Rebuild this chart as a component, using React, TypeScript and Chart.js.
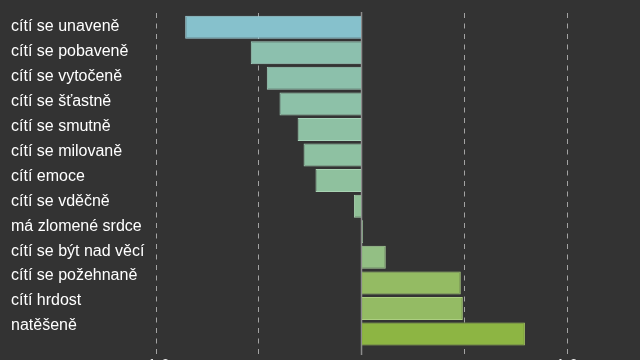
import { useEffect, useRef } from "react";
import { Chart, registerables } from "chart.js";

Chart.register(...registerables);

const categories = [
  "cítí se unaveně",
  "cítí se pobaveně",
  "cítí se vytočeně",
  "cítí se šťastně",
  "cítí se smutně",
  "cítí se milovaně",
  "cítí emoce",
  "cítí se vděčně",
  "má zlomené srdce",
  "cítí se být nad věcí",
  "cítí se požehnaně",
  "cítí hrdost",
  "natěšeně",
];

const values = [
  -0.858, -0.539, -0.461, -0.399, -0.311, -0.282, -0.224, -0.037, 0.007, 0.118,
  0.483, 0.493, 0.795,
];

const barColors = [
  "#86c1cc", "#8cc0ae", "#8cc0ab", "#8dc1a8", "#8ec1a4", "#8ec1a2", "#8fc19e",
  "#90c097", "#91c092", "#93bf84", "#94bb63", "#94bb64", "#8db543",
];

const barBorderColors = [
  "#a2d2dc", "#a6d2c3", "#a6d2c0", "#a7d3bd", "#a8d3ba", "#a8d3b8", "#a9d3b4",
  "#aad2ae", "#abd2aa", "#acd09e", "#acce80", "#acce81", "#a6ca63",
];

const xTickValues = [-1, -0.5, 0, 0.5, 1];
const xTickLabels: Record<string, string> = { "-1": "-1.0", "1": "1.0" };

const FONT = "'Liberation Sans', Arial, sans-serif";

export default function App() {
  const ref = useRef<HTMLCanvasElement>(null);

  useEffect(() => {
    if (!ref.current) return;
    const zeroLine = {
      id: "zeroLine",
      beforeDatasetsDraw(chart: any) {
        const c = chart.ctx;
        const x = chart.scales.x.getPixelForValue(0);
        const { top, bottom } = chart.chartArea;
        c.save();
        c.strokeStyle = "#8c8c8c";
        c.lineWidth = 1.5;
        c.beginPath();
        c.moveTo(x, top - 1);
        c.lineTo(x, bottom);
        c.stroke();
        c.restore();
      },
    };

    const chart = new Chart(ref.current, {
      type: "bar",
      data: {
        datasets: [
          {
            data: values.map((v, i) => ({ x: v, y: i })),
            backgroundColor: barColors,
            borderColor: barBorderColors,
            borderWidth: 1,
            barPercentage: 0.9,
            categoryPercentage: 1,
            xAxisID: "x",
            yAxisID: "y",
          },
        ],
      },
      options: {
        indexAxis: "y",
        animation: false,
        responsive: true,
        maintainAspectRatio: false,
        layout: { padding: { top: 13, left: 11, right: 0, bottom: 0 } },
        plugins: {
          legend: { display: false },
          tooltip: { enabled: false },
          title: { display: false },
        },
        scales: {
          x: {
            type: "linear",
            position: "bottom",
            min: -1,
            max: 1.355,
            offset: false,
            afterBuildTicks: (s: any) => {
              s.ticks = xTickValues.map((v) => ({ value: v }));
            },
            afterFit: (s: any) => {
              s.height = 25;
            },
            grid: {
              color: (c: any) =>
                c.tick && c.tick.value === 0 ? "rgba(0,0,0,0)" : "#a3a3a3",
              lineWidth: 1,
              drawTicks: false,
              offset: false,
            },
            border: { display: false, dash: [5, 5.5] },
            ticks: {
              padding: 2,
              color: "#eeeeee",
              font: { size: 16, family: FONT },
              autoSkip: false,
              maxRotation: 0,
              callback: (v: any) => xTickLabels[String(v)] ?? "",
            },
          },
          y: {
            type: "linear",
            display: false,
            reverse: true,
            offset: false,
            min: -0.5553,
            max: 12.82,
            grid: { offset: false },
            afterBuildTicks: (s: any) => {
              s.ticks = categories.map((_, i) => ({ value: i }));
            },
          },
          yl: {
            type: "linear",
            position: "left",
            reverse: true,
            offset: false,
            min: -0.5493,
            max: 13.164,
            afterBuildTicks: (s: any) => {
              s.ticks = categories.map((_, i) => ({ value: i }));
            },
            afterFit: (s: any) => {
              s.width = 145;
            },
            grid: { display: false, offset: false },
            border: { display: false },
            ticks: {
              crossAlign: "far",
              color: "#ffffff",
              font: { size: 16, family: FONT },
              autoSkip: false,
              callback: (v: any) => categories[v] ?? "",
            },
          },
        },
      } as any,
      plugins: [zeroLine],
    });
    return () => chart.destroy();
  }, []);

  return (
    <div
      style={{
        position: "fixed",
        left: 0,
        top: 0,
        width: 640,
        height: 380,
        background: "#333333",
      }}
    >
      <canvas ref={ref} />
    </div>
  );
}
